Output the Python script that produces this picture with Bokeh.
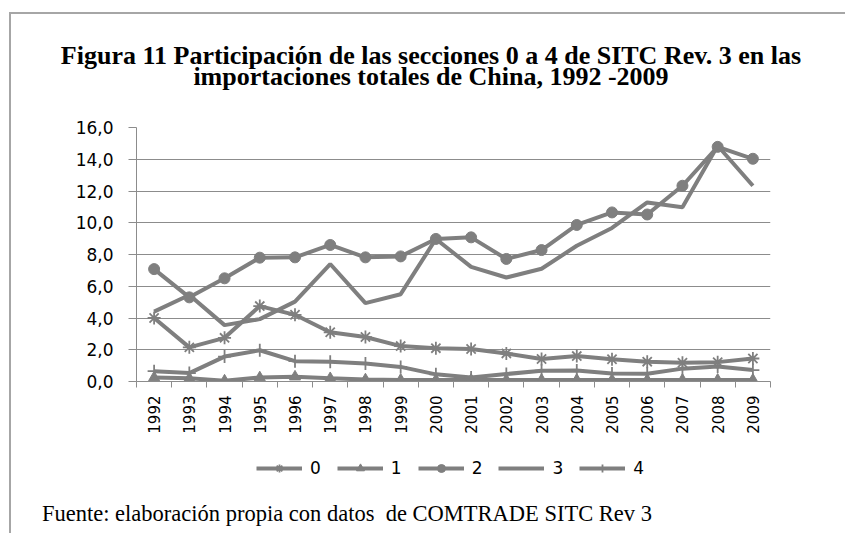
import math
from bokeh.plotting import figure
from bokeh.layouts import column
from bokeh.models import (Range1d, FixedTicker, CustomJSTickFormatter, Div,
                          Legend, LegendItem)
from bokeh.embed import file_html
from bokeh.resources import INLINE

# ---------------- data ----------------
years = ["1992", "1993", "1994", "1995", "1996", "1997", "1998", "1999", "2000",
         "2001", "2002", "2003", "2004", "2005", "2006", "2007", "2008", "2009"]
s0 = [4.0, 2.15, 2.75, 4.75, 4.2, 3.1, 2.8, 2.23, 2.1, 2.05, 1.77, 1.42, 1.6, 1.4, 1.25, 1.18, 1.22, 1.45]
s1 = [0.25, 0.2, 0.05, 0.25, 0.3, 0.2, 0.12, 0.1, 0.1, 0.1, 0.1, 0.1, 0.1, 0.1, 0.1, 0.1, 0.1, 0.1]
s2 = [7.08, 5.3, 6.5, 7.8, 7.82, 8.6, 7.82, 7.88, 8.98, 9.08, 7.72, 8.28, 9.86, 10.65, 10.52, 12.33, 14.78, 14.03]
s3 = [4.4, 5.45, 3.55, 3.93, 5.03, 7.4, 4.94, 5.5, 8.98, 7.22, 6.55, 7.1, 8.55, 9.67, 11.28, 10.98, 14.85, 12.33]
s4 = [0.65, 0.53, 1.57, 1.97, 1.28, 1.24, 1.13, 0.92, 0.45, 0.25, 0.47, 0.68, 0.7, 0.5, 0.49, 0.81, 0.95, 0.72]
series_labels = ["0", "1", "2", "3", "4"]
series_markers = ["asterisk", "triangle", "circle", None, "cross"]
y_ticks = [0, 2, 4, 6, 8, 10, 12, 14, 16]
title_lines = ["Figura 11 Participación de las secciones 0 a 4 de SITC Rev. 3 en las",
               "importaciones totales de China, 1992 -2009"]
source_note = "Fuente: elaboración propia con datos&nbsp; de COMTRADE SITC Rev 3"

GRAY = "#7f7f7f"
GRID = "#8c8c8c"
BORDER = "#a6a6a6"
W = 834

x = [i + 0.5 for i in range(len(years))]

# ---------------- main chart ----------------
p = figure(frame_width=634, frame_height=254,
           min_border_left=125, min_border_right=75,
           min_border_top=23, min_border_bottom=59,
           x_range=Range1d(0, len(years)), y_range=Range1d(0, 16),
           output_backend="svg", toolbar_location=None)
p.outline_line_color = None
p.background_fill_color = "white"
p.border_fill_color = "white"

p.yaxis.ticker = FixedTicker(ticks=y_ticks, minor_ticks=[])
p.yaxis.formatter = CustomJSTickFormatter(code="return tick.toFixed(1).replace('.', ',');")
p.yaxis.major_tick_out = 8
p.yaxis.major_tick_in = 0
p.yaxis.major_tick_line_color = GRID
p.yaxis.axis_line_color = GRID
p.yaxis.major_label_standoff = 15
p.yaxis.major_label_text_font = "DejaVu Sans"
p.yaxis.major_label_text_font_size = "17px"
p.yaxis.major_label_text_color = "#000000"

p.xaxis.ticker = FixedTicker(ticks=x, minor_ticks=list(range(len(years) + 1)))
p.xaxis.formatter = CustomJSTickFormatter(args=dict(years=years),
                                          code="return years[Math.floor(tick)];")
p.xaxis.major_tick_line_color = None
p.xaxis.major_tick_out = 6
p.xaxis.major_tick_in = 0
p.xaxis.minor_tick_out = 6
p.xaxis.minor_tick_in = 0
p.xaxis.minor_tick_line_color = GRID
p.xaxis.axis_line_color = GRID
p.xaxis.major_label_orientation = math.pi / 2
p.xaxis.major_label_standoff = 8
p.xaxis.major_label_text_font = "DejaVu Sans"
p.xaxis.major_label_text_font_size = "15px"
p.xaxis.major_label_text_color = "#000000"

p.xgrid.visible = False
p.ygrid.ticker = FixedTicker(ticks=y_ticks, minor_ticks=[])
p.ygrid.grid_line_color = GRID
p.ygrid.grid_line_width = 1

# ---------------- legend strip (separate small figure so it is not clipped) ----------------
# its ranges are set away from the data so the series themselves are not visible there
lg = figure(width=W, height=50, min_border=0, x_range=Range1d(1000, 1001), y_range=Range1d(1000, 1001),
            x_axis_location=None, y_axis_location=None,
            output_backend="svg", toolbar_location=None)
lg.outline_line_color = None
lg.xgrid.visible = False
lg.ygrid.visible = False
lg.background_fill_color = "white"
lg.border_fill_color = "white"


def draw(fig, xs, ys, mk, scale=1.0):
    rl = fig.line(xs, ys, line_width=4, line_color=GRAY)
    out = [rl]
    if mk is not None:
        if mk in ("asterisk", "cross"):
            out.append(fig.scatter(xs, ys, marker=mk, size=13 * scale, line_color=GRAY, line_width=1.8))
        else:
            out.append(fig.scatter(xs, ys, marker=mk, size=11 * scale, line_color=GRAY, fill_color=GRAY))
    return out


items = []
for lab, mk, ys in zip(series_labels, series_markers, [s0, s1, s2, s3, s4]):
    draw(p, x, ys, mk)
    items.append(LegendItem(label=lab, renderers=draw(lg, x, ys, mk, scale=0.8)))

legend = Legend(items=items, orientation="horizontal", location=(120, 12),
                glyph_width=46, glyph_height=20, label_width=10, label_standoff=8,
                spacing=16, padding=0, margin=0, border_line_color=None,
                background_fill_alpha=0, label_text_font="DejaVu Sans",
                label_text_font_size="17px", label_text_color="#000000")
lg.add_layout(legend, "center")

# ---------------- texts ----------------
title_html = ('<div style="width:%dpx;box-sizing:border-box;padding-left:6px;padding-top:31px;'
              'text-align:center;font-family:\'Liberation Serif\',serif;'
              'font-weight:bold;font-size:26px;line-height:21px;'
              'color:#000;white-space:nowrap;">' % W
              + title_lines[0] + '<br>' + title_lines[1] + '</div>')
title_div = Div(text=title_html, width=W, height=90, margin=0)

note_html = ('<div style="width:%dpx;box-sizing:border-box;font-family:\'Liberation Serif\',serif;'
             'font-size:22.5px;line-height:22px;padding-top:13px;padding-left:31px;color:#000;'
             'white-space:nowrap;">' % W + source_note + '</div>')
note_div = Div(text=note_html, width=W, height=43, margin=0)

layout = column(title_div, p, lg, note_div, spacing=0,
                margin=(12, 0, 0, 9),
                styles={"border-top": "2px solid " + BORDER,
                        "border-left": "2px solid " + BORDER,
                        "background-color": "white"})

open("out.html", "w").write(file_html(layout, INLINE))
